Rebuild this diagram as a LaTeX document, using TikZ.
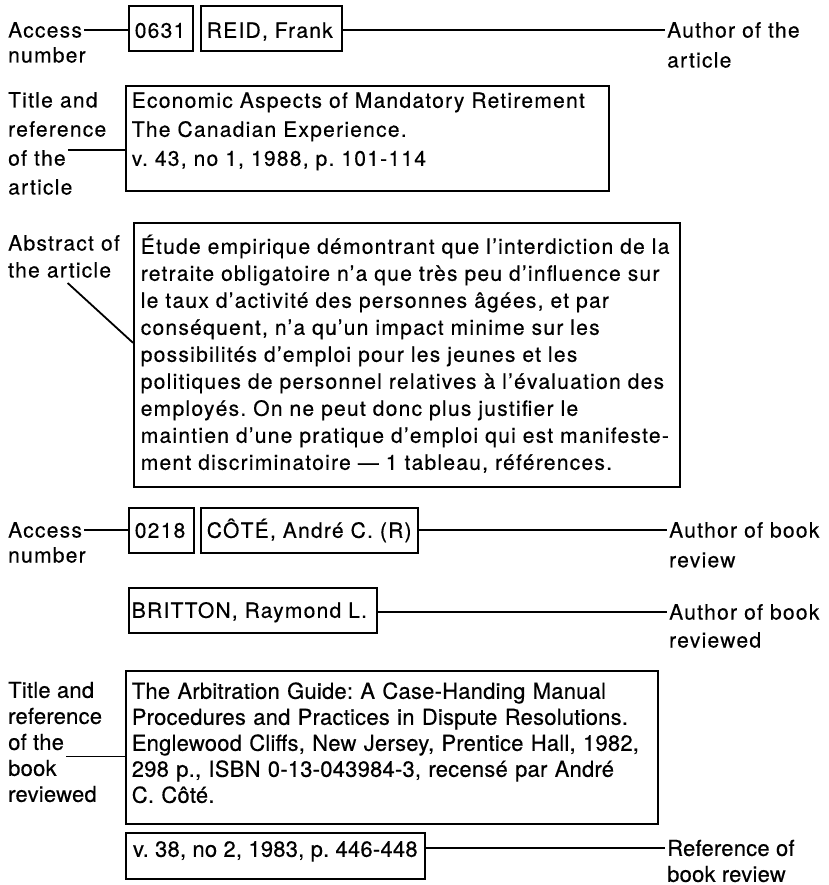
\documentclass[tikz,border=0pt]{standalone}
\usepackage{fontspec}
\setmainfont{TeX Gyre Heros}[LetterSpace=6, FakeBold=0.4]
\newfontfamily\bookfont{TeX Gyre Heros}[LetterSpace=1, FakeBold=0.4]
\usetikzlibrary{positioning}
\newcommand{\cardtext}{\frenchspacing\fontsize{21}{27}\selectfont}
\newcommand{\booktext}{\frenchspacing\bookfont\fontsize{22}{26}\selectfont}

\begin{document}
\begin{tikzpicture}[x=1pt, y=-1pt, font=\cardtext,
    card/.style={draw, line width=1.6pt, anchor=north west, align=left, inner xsep=6pt, inner ysep=0pt},
    lbl/.style={anchor=west, inner xsep=2pt, inner ysep=0pt},
    link/.style={line width=1.8pt},
  ]
  \fill[white] (0,0) rectangle (828,885);
  \useasboundingbox (0,0) rectangle (828,885);

  % article card
  \node[card, text width=52pt, text height=32pt, text depth=13pt] (num1) at (128,5) {0631};
  \node[card, text width=129pt, text height=32pt, text depth=13pt] (auth1) at (200,5) {REID, Frank};
  \node[card, text width=471pt, text height=22pt, text depth=83pt,
        font={\frenchspacing\fontsize{21}{29}\selectfont}] (title1) at (125,85)
    {Economic Aspects of Mandatory Retirement\\
     The Canadian Experience.\\
     v. 43, no 1, 1988, p. 101-114};
  \node[card, inner xsep=7pt, text width=532pt, text height=31pt, text depth=233pt] (abs1) at (133,222)
    {Étude empirique démontrant que l’interdiction de la\\
     retraite obligatoire n’a que très peu d’influence sur\\
     le taux d’activité des personnes âgées, et par\\
     conséquent, n’a qu’un impact minime sur les\\
     possibilités d’emploi pour les jeunes et les\\
     politiques de personnel relatives à l’évaluation des\\
     employés. On ne peut donc plus justifier le\\
     maintien d’une pratique d’emploi qui est manifeste-\\
     ment discriminatoire — 1 tableau, références.};

  % book review card
  \node[card, text width=53pt, text height=30pt, text depth=15pt] (num2) at (128,507) {0218};
  \node[card, text width=205pt, text height=30pt, text depth=15pt] (auth2) at (200,507) {CÔTÉ, André C. (R)};
  \node[card, inner xsep=3pt, text width=242pt, text height=30pt, text depth=15pt] (auth3) at (128,587) {BRITTON, Raymond L.};
  \node[card, text width=520pt, text height=28pt, text depth=125pt, font=\booktext] (title2) at (125,670)
    {The Arbitration Guide: A Case-Handing Manual\\
     Procedures and Practices in Dispute Resolutions.\\
     Englewood Cliffs, New Jersey, Prentice Hall, 1982,\\
     298 p., ISBN 0-13-043984-3, recensé par André\\
     C. Côté.};
  \node[card, minimum width=299pt, text height=24pt, text depth=22pt, font=\booktext] (ref2) at (125,832)
    {v. 38, no 2, 1983, p. 446-448};

  % labels on the left
  \node[lbl] (acc1) at (6,30) {Access};
  \node[lbl] (nmb1) at (6,55) {number};
  \foreach \t [count=\i] in {Title and, reference, of the, article}
    \node[lbl] (ta\i) at (6,71+29*\i) {\t};
  \node[lbl] (ab1) at (6,243) {Abstract of};
  \node[lbl] (ab2) at (6,270) {the article};
  \node[lbl] (acc2) at (6,530) {Access};
  \node[lbl] (nmb2) at (6,555) {number};
  \foreach \t [count=\i] in {Title and, reference, of the, book, reviewed}
    \node[lbl, font=\booktext] (tb\i) at (6,664+26*\i) {\t};

  % labels on the right
  \node[lbl] (au1a) at (665,30) {Author of the};
  \node[lbl] (au1b) at (665,60) {article};
  \node[lbl] (au2a) at (667,530) {Author of book};
  \node[lbl] (au2b) at (667,560) {review};
  \node[lbl] (au3a) at (667,612) {Author of book};
  \node[lbl] (au3b) at (667,640) {reviewed};
  \node[lbl, font=\booktext] (rf1) at (665,848) {Reference of};
  \node[lbl, font=\booktext] (rf2) at (665,874) {book review};

  % connectors
  \draw[link] (acc1.east) -- (acc1.east -| num1.west);
  \draw[link] (auth1.east |- au1a.west) -- (au1a.west);
  \draw[link] (ta3.north east) -- (ta3.north east -| title1.west);
  \draw[link] ([xshift=8pt, yshift=-5pt]ab2.south) -- ([yshift=12pt]abs1.west);
  \draw[link] (acc2.east) -- (acc2.east -| num2.west);
  \draw[link] (auth2.east |- au2a.west) -- (au2a.west);
  \draw[link] (auth3.east |- au3a.west) -- (au3a.west);
  \draw[link] ([yshift=-6pt]tb3.south east) -- ([yshift=-6pt]tb3.south east -| title2.west);
  \draw[link] (ref2.east |- rf1.west) -- (rf1.west);
\end{tikzpicture}
\end{document}
